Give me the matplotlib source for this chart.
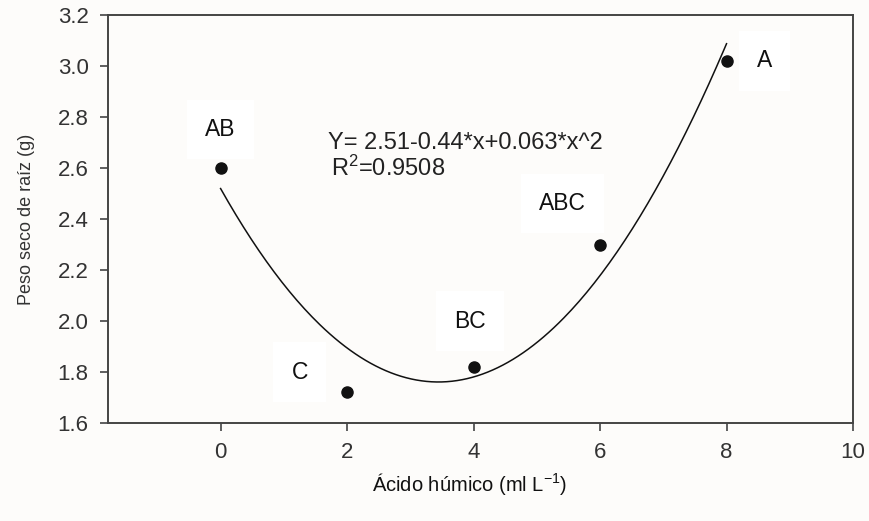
import numpy as np
import matplotlib.pyplot as plt

plt.rcParams['font.family'] = ['Liberation Sans', 'DejaVu Sans']
plt.rcParams['mathtext.fontset'] = 'custom'
plt.rcParams['mathtext.rm'] = 'Liberation Sans'
plt.rcParams['mathtext.it'] = 'Liberation Sans'

# doses and root dry weight
dose = [0, 2, 4, 6, 8]
weight = [2.60, 1.72, 1.82, 2.30, 3.02]
letters = ["AB", "C", "BC", "ABC", "A"]
letter_x = [0.0, 1.25, 3.95, 5.4, 8.6]
letter_y = [2.75, 1.80, 2.00, 2.46, 3.02]

coef = np.polyfit(dose, weight, 2)
xs = np.linspace(0, 8, 200)

fig = plt.figure(figsize=(8.69, 5.21), dpi=100, facecolor='#fdfcfa')
ax = fig.add_axes([0.1243, 0.1881, 0.8573, 0.7831])
ax.set_facecolor('#fdfcfa')

ax.plot(xs, np.polyval(coef, xs), color='#111111', lw=1.1)
ax.plot(dose, weight, 'o', color='#111111', ms=8)

for lx, ly, t in zip(letter_x, letter_y, letters):
    ax.text(lx, ly, t, ha='center', va='center', fontsize=16.5, color='#111111',
            bbox=dict(facecolor='white', edgecolor='none', pad=13))

ax.text(1.7, 2.70, "Y= 2.51-0.44*x+0.063*x^2", fontsize=17, color='#222222', va='center')
ax.text(1.75, 2.60, r"R$^{2}$=0.9508", fontsize=17, color='#222222', va='center')

ax.set_xlim(-1.78, 10)
ax.set_ylim(1.6, 3.2)
ax.set_xticks([0, 2, 4, 6, 8, 10])
ax.set_yticks([1.6, 1.8, 2.0, 2.2, 2.4, 2.6, 2.8, 3.0, 3.2])
ax.set_yticklabels(['1.6', '1.8', '2.0', '2.2', '2.4', '2.6', '2.8', '3.0', '3.2'])
ax.tick_params(axis='both', labelsize=16, colors='#444444', labelcolor='#333333',
               length=6, width=1.2, direction='out', pad=8)
for s in ax.spines.values():
    s.set_color('#444444')
    s.set_linewidth(1.4)

ax.set_ylabel("Peso seco de raíz (g)", fontsize=13, color='#333333', labelpad=16)
fig.text(0.54, 0.058, r"Ácido húmico (ml L$^{\mathrm{-1}}$)", ha='center', fontsize=14.5, color='#111111')

plt.savefig("out.png", dpi=100, facecolor=fig.get_facecolor())
